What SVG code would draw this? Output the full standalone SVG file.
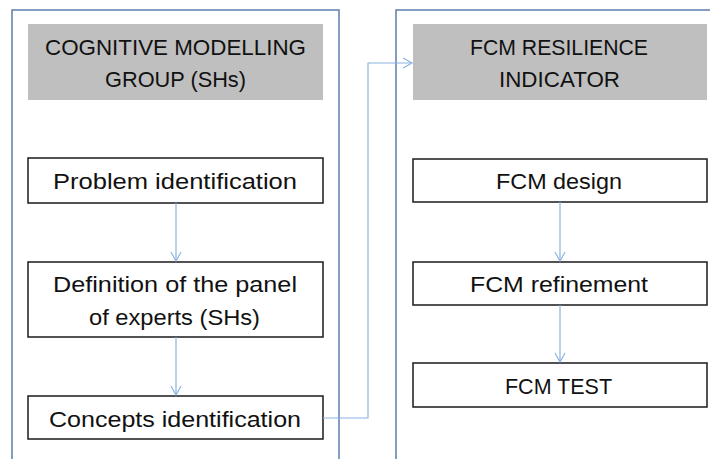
<svg xmlns="http://www.w3.org/2000/svg" width="710" height="459" viewBox="0 0 710 459">
<style>
.panel{fill:none;stroke:#5b7fae;stroke-width:1.5}
.head{fill:#bfbfbf}
.box{fill:#fff;stroke:#1a1a1a;stroke-width:1.5}
text{font-family:"Liberation Sans",Arial,sans-serif;font-size:22px;fill:#111;text-anchor:middle}
.conn{fill:none;stroke:#8ab4e0;stroke-width:1.2}
</style>
<defs>
<marker id="ah" markerWidth="12" markerHeight="12" refX="10" refY="6" orient="auto" markerUnits="userSpaceOnUse">
<path d="M1,1 L10,6 L1,11" fill="none" stroke="#8ab4e0" stroke-width="1.2"/>
</marker>
</defs>
<rect width="710" height="459" fill="#fff"/>
<g id="panel-left">
<path class="panel" d="M12,460 V10 H339 V460"/>
</g>
<g id="panel-right">
<path class="panel" d="M396,460 V10 H712"/>
</g>
<g id="head-left">
<rect class="head" x="28" y="24" width="295" height="76"/>
<text x="175.5" y="55" textLength="261" lengthAdjust="spacingAndGlyphs">COGNITIVE MODELLING</text>
<text x="175.5" y="87" textLength="141" lengthAdjust="spacingAndGlyphs">GROUP (SHs)</text>
</g>
<g id="head-right">
<rect class="head" x="413" y="24" width="294" height="76"/>
<text x="559" y="55" textLength="178" lengthAdjust="spacingAndGlyphs">FCM RESILIENCE</text>
<text x="559.5" y="87" textLength="121" lengthAdjust="spacingAndGlyphs">INDICATOR</text>
</g>
<g id="problem">
<rect class="box" x="28" y="158" width="295" height="45"/>
<text x="175" y="189" textLength="244" lengthAdjust="spacingAndGlyphs">Problem identification</text>
</g>
<g id="definition">
<rect class="box" x="28" y="262" width="295" height="75"/>
<text x="175" y="292" textLength="244" lengthAdjust="spacingAndGlyphs">Definition of the panel</text>
<text x="174.5" y="325" textLength="171" lengthAdjust="spacingAndGlyphs">of experts (SHs)</text>
</g>
<g id="concepts">
<rect class="box" x="28" y="396" width="295" height="43"/>
<text x="175" y="427" textLength="252" lengthAdjust="spacingAndGlyphs">Concepts identification</text>
</g>
<g id="design">
<rect class="box" x="413" y="159" width="294" height="43"/>
<text x="559" y="189" textLength="126" lengthAdjust="spacingAndGlyphs">FCM design</text>
</g>
<g id="refinement">
<rect class="box" x="413" y="262" width="294" height="43"/>
<text x="559" y="292" textLength="178" lengthAdjust="spacingAndGlyphs">FCM refinement</text>
</g>
<g id="test">
<rect class="box" x="413" y="363" width="294" height="44"/>
<text x="558.5" y="394" textLength="107" lengthAdjust="spacingAndGlyphs">FCM TEST</text>
</g>
<g id="connectors">
<path class="conn" d="M176,203 V261" marker-end="url(#ah)"/>
<path class="conn" d="M176,337 V395" marker-end="url(#ah)"/>
<path class="conn" d="M323,418 H368 V63 H412" marker-end="url(#ah)"/>
<path class="conn" d="M560,202 V261" marker-end="url(#ah)"/>
<path class="conn" d="M560,305 V362" marker-end="url(#ah)"/>
</g>
</svg>
